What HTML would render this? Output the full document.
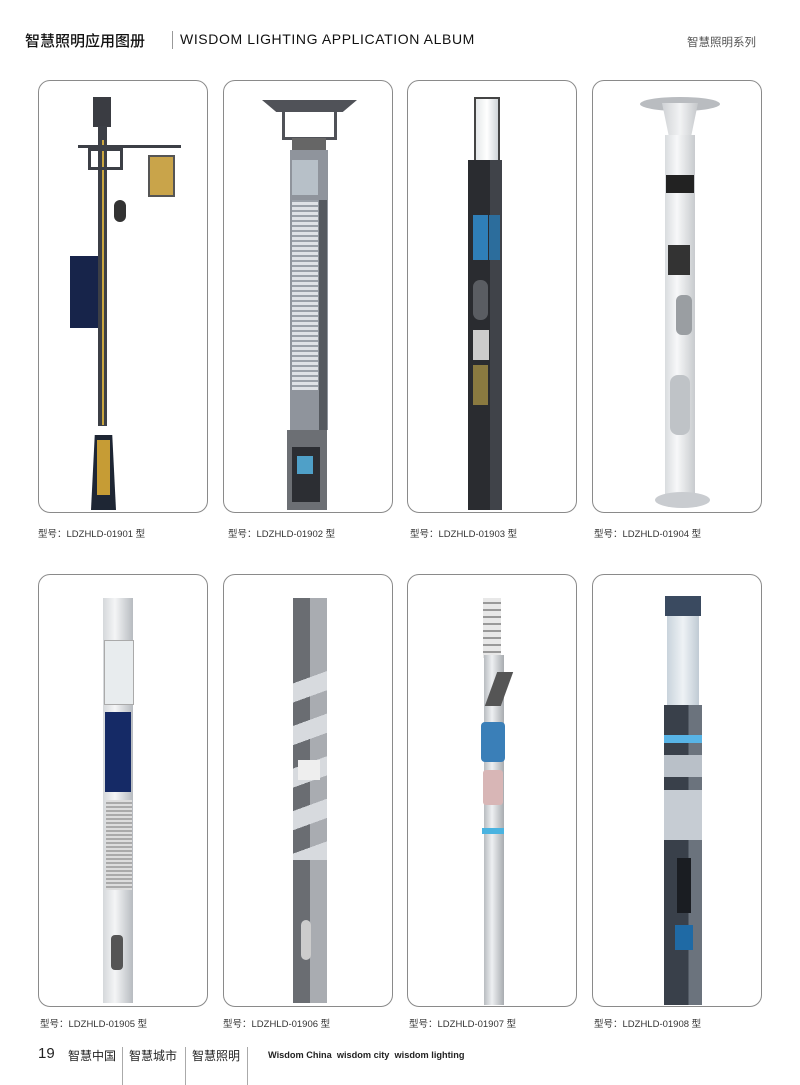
<!DOCTYPE html>
<html><head><meta charset="utf-8"><style>
*{margin:0;padding:0;box-sizing:border-box}
body{width:800px;height:1085px;background:#fff;position:relative;overflow:hidden;font-family:"Liberation Sans","Noto Sans CJK SC",sans-serif;color:#222}
.a{position:absolute}
.card{position:absolute;width:170px;height:433px;border:1px solid #8a8a8a;border-radius:12px;background:#fff}
.lbl{position:absolute;font-size:9.5px;color:#333}
</style></head><body>
<div class="a" style="left:25px;top:30px;font-size:15px;color:#111;font-weight:500">智慧照明应用图册</div>
<div class="a" style="left:172px;top:31px;width:1px;height:18px;background:#999"></div>
<div class="a" style="left:180px;top:31px;font-size:14px;letter-spacing:0.6px;color:#111">WISDOM LIGHTING APPLICATION ALBUM</div>
<div class="a" style="left:687px;top:34px;font-size:11.5px;color:#555">智慧照明系列</div>

<div class="card" style="left:38px;top:80px"></div>
<div class="card" style="left:223px;top:80px"></div>
<div class="card" style="left:407px;top:80px"></div>
<div class="card" style="left:592px;top:80px"></div>
<div class="card" style="left:38px;top:574px"></div>
<div class="card" style="left:223px;top:574px"></div>
<div class="card" style="left:407px;top:574px"></div>
<div class="card" style="left:592px;top:574px"></div>

<!-- pole 1 -->
<div class="a" style="left:93px;top:97px;width:18px;height:30px;background:#3a3c42"></div>
<div class="a" style="left:98px;top:126px;width:9px;height:300px;background:#3c3f46"></div>
<div class="a" style="left:102px;top:140px;width:2px;height:285px;background:#c9a640"></div>
<div class="a" style="left:78px;top:145px;width:103px;height:3px;background:#3c3f46"></div>
<div class="a" style="left:88px;top:148px;width:35px;height:22px;border:3px solid #3c3f46"></div>
<div class="a" style="left:148px;top:155px;width:27px;height:42px;background:#c9a44a;border:2px solid #555"></div>
<div class="a" style="left:114px;top:200px;width:12px;height:22px;background:#333;border-radius:6px"></div>
<div class="a" style="left:70px;top:256px;width:28px;height:72px;background:#17244a"></div>
<div class="a" style="left:91px;top:435px;width:25px;height:75px;background:#1e2634;clip-path:polygon(15% 0,85% 0,100% 100%,0 100%)"></div>
<div class="a" style="left:97px;top:440px;width:13px;height:55px;background:#c69c35"></div>

<!-- pole 2 -->
<div class="a" style="left:262px;top:100px;width:95px;height:12px;background:#505258;clip-path:polygon(0 0,100% 0,85% 100%,15% 100%)"></div>
<div class="a" style="left:282px;top:110px;width:55px;height:30px;border:3px solid #505258;border-top:none"></div>
<div class="a" style="left:292px;top:138px;width:34px;height:12px;background:#666"></div>
<div class="a" style="left:290px;top:150px;width:38px;height:280px;background:#8f949c"></div>
<div class="a" style="left:292px;top:160px;width:26px;height:35px;background:#b7c0c8"></div>
<div class="a" style="left:292px;top:200px;width:26px;height:190px;background:repeating-linear-gradient(0deg,#dfe2e6 0 3px,#9aa0a8 3px 5px)"></div>
<div class="a" style="left:319px;top:200px;width:8px;height:230px;background:#55595f"></div>
<div class="a" style="left:287px;top:430px;width:40px;height:80px;background:#6c6f74"></div>
<div class="a" style="left:292px;top:447px;width:28px;height:55px;background:#2c2e33"></div>
<div class="a" style="left:297px;top:456px;width:16px;height:18px;background:#4fa0c8"></div>

<!-- pole 3 -->
<div class="a" style="left:474px;top:97px;width:26px;height:65px;background:linear-gradient(90deg,#e5e8ea,#fff,#d0d4d8);border:2px solid #444"></div>
<div class="a" style="left:468px;top:160px;width:34px;height:350px;background:linear-gradient(90deg,#2a2c30 0 65%,#404349 65%)"></div>
<div class="a" style="left:473px;top:215px;width:15px;height:45px;background:#2f7fb8"></div>
<div class="a" style="left:489px;top:215px;width:11px;height:45px;background:#2c6d9c"></div>
<div class="a" style="left:473px;top:280px;width:15px;height:40px;background:#5a5d62;border-radius:7px"></div>
<div class="a" style="left:473px;top:330px;width:16px;height:30px;background:#ccc"></div>
<div class="a" style="left:473px;top:365px;width:15px;height:40px;background:#8a7a40"></div>

<!-- pole 4 -->
<div class="a" style="left:640px;top:97px;width:80px;height:14px;background:#b9bcc0;border-radius:50%"></div>
<div class="a" style="left:662px;top:103px;width:36px;height:35px;background:linear-gradient(90deg,#cfd2d5,#f2f3f4,#c5c8cb);clip-path:polygon(0 0,100% 0,80% 100%,20% 100%)"></div>
<div class="a" style="left:665px;top:135px;width:30px;height:360px;background:linear-gradient(90deg,#d9dcdf,#f7f8f9 40%,#c8cbce)"></div>
<div class="a" style="left:666px;top:175px;width:28px;height:18px;background:#222"></div>
<div class="a" style="left:668px;top:245px;width:22px;height:30px;background:#333"></div>
<div class="a" style="left:676px;top:295px;width:16px;height:40px;background:#9a9ea2;border-radius:6px"></div>
<div class="a" style="left:670px;top:375px;width:20px;height:60px;background:#bfc3c7;border-radius:8px"></div>
<div class="a" style="left:655px;top:492px;width:55px;height:16px;background:#c9ccd0;border-radius:50%"></div>

<!-- pole 5 -->
<div class="a" style="left:103px;top:598px;width:30px;height:405px;background:linear-gradient(90deg,#d5d8db,#f4f5f6 40%,#b7bbc0)"></div>
<div class="a" style="left:104px;top:640px;width:30px;height:65px;background:#e8ecee;border:1px solid #aaa"></div>
<div class="a" style="left:105px;top:712px;width:26px;height:80px;background:#152a66"></div>
<div class="a" style="left:106px;top:800px;width:26px;height:90px;background:repeating-linear-gradient(0deg,#ddd 0 2px,#aaa 2px 4px)"></div>
<div class="a" style="left:111px;top:935px;width:12px;height:35px;background:#555;border-radius:4px"></div>

<!-- pole 6 -->
<div class="a" style="left:293px;top:598px;width:34px;height:405px;background:linear-gradient(90deg,#6a6d72 0 50%,#a9acb1 50%)"></div>
<div class="a" style="left:293px;top:660px;width:34px;height:200px;background:repeating-linear-gradient(160deg,transparent 0 22px,#d7dade 22px 40px)"></div>
<div class="a" style="left:298px;top:760px;width:22px;height:20px;background:#eee"></div>
<div class="a" style="left:301px;top:920px;width:10px;height:40px;background:#ccc;border-radius:5px"></div>

<!-- pole 7 -->
<div class="a" style="left:483px;top:598px;width:18px;height:60px;background:repeating-linear-gradient(0deg,#e8e8e8 0 5px,#999 5px 7px)"></div>
<div class="a" style="left:484px;top:655px;width:20px;height:350px;background:linear-gradient(90deg,#b8bcc0,#eef0f2 40%,#a8acb0)"></div>
<div class="a" style="left:491px;top:672px;width:16px;height:34px;background:#555;transform:skewX(-20deg)"></div>
<div class="a" style="left:481px;top:722px;width:24px;height:40px;background:#3a7fb8;border-radius:4px"></div>
<div class="a" style="left:483px;top:770px;width:20px;height:35px;background:#d8b6b6;border-radius:3px"></div>
<div class="a" style="left:482px;top:828px;width:22px;height:6px;background:#4ab3e0"></div>

<!-- pole 8 -->
<div class="a" style="left:665px;top:596px;width:36px;height:20px;background:#3a4a60"></div>
<div class="a" style="left:667px;top:616px;width:32px;height:90px;background:linear-gradient(90deg,#c9d3dc,#eef2f5,#c0cbd4)"></div>
<div class="a" style="left:664px;top:705px;width:38px;height:300px;background:linear-gradient(90deg,#39404a 0 65%,#6b737d 65%)"></div>
<div class="a" style="left:664px;top:735px;width:38px;height:8px;background:#58b4e6"></div>
<div class="a" style="left:664px;top:755px;width:38px;height:22px;background:#b9c0c8"></div>
<div class="a" style="left:664px;top:790px;width:38px;height:50px;background:#c6ccd3"></div>
<div class="a" style="left:677px;top:858px;width:14px;height:55px;background:#1a1d22"></div>
<div class="a" style="left:675px;top:925px;width:18px;height:25px;background:#1f6aa5"></div>

<div class="lbl" style="left:38px;top:526px">型号：LDZHLD-01901 型</div>
<div class="lbl" style="left:228px;top:526px">型号：LDZHLD-01902 型</div>
<div class="lbl" style="left:410px;top:526px">型号：LDZHLD-01903 型</div>
<div class="lbl" style="left:594px;top:526px">型号：LDZHLD-01904 型</div>
<div class="lbl" style="left:40px;top:1016px">型号：LDZHLD-01905 型</div>
<div class="lbl" style="left:223px;top:1016px">型号：LDZHLD-01906 型</div>
<div class="lbl" style="left:409px;top:1016px">型号：LDZHLD-01907 型</div>
<div class="lbl" style="left:594px;top:1016px">型号：LDZHLD-01908 型</div>

<div class="a" style="left:38px;top:1045px;font-size:15px">19</div>
<div class="a" style="left:68px;top:1047px;font-size:12px">智慧中国</div>
<div class="a" style="left:122px;top:1047px;width:1px;height:38px;background:#aaa"></div>
<div class="a" style="left:129px;top:1047px;font-size:12px">智慧城市</div>
<div class="a" style="left:185px;top:1047px;width:1px;height:38px;background:#aaa"></div>
<div class="a" style="left:192px;top:1047px;font-size:12px">智慧照明</div>
<div class="a" style="left:247px;top:1047px;width:1px;height:38px;background:#aaa"></div>
<div class="a" style="left:268px;top:1050px;font-size:9.2px;font-weight:bold">Wisdom China&nbsp; wisdom city&nbsp; wisdom lighting</div>
</body></html>
